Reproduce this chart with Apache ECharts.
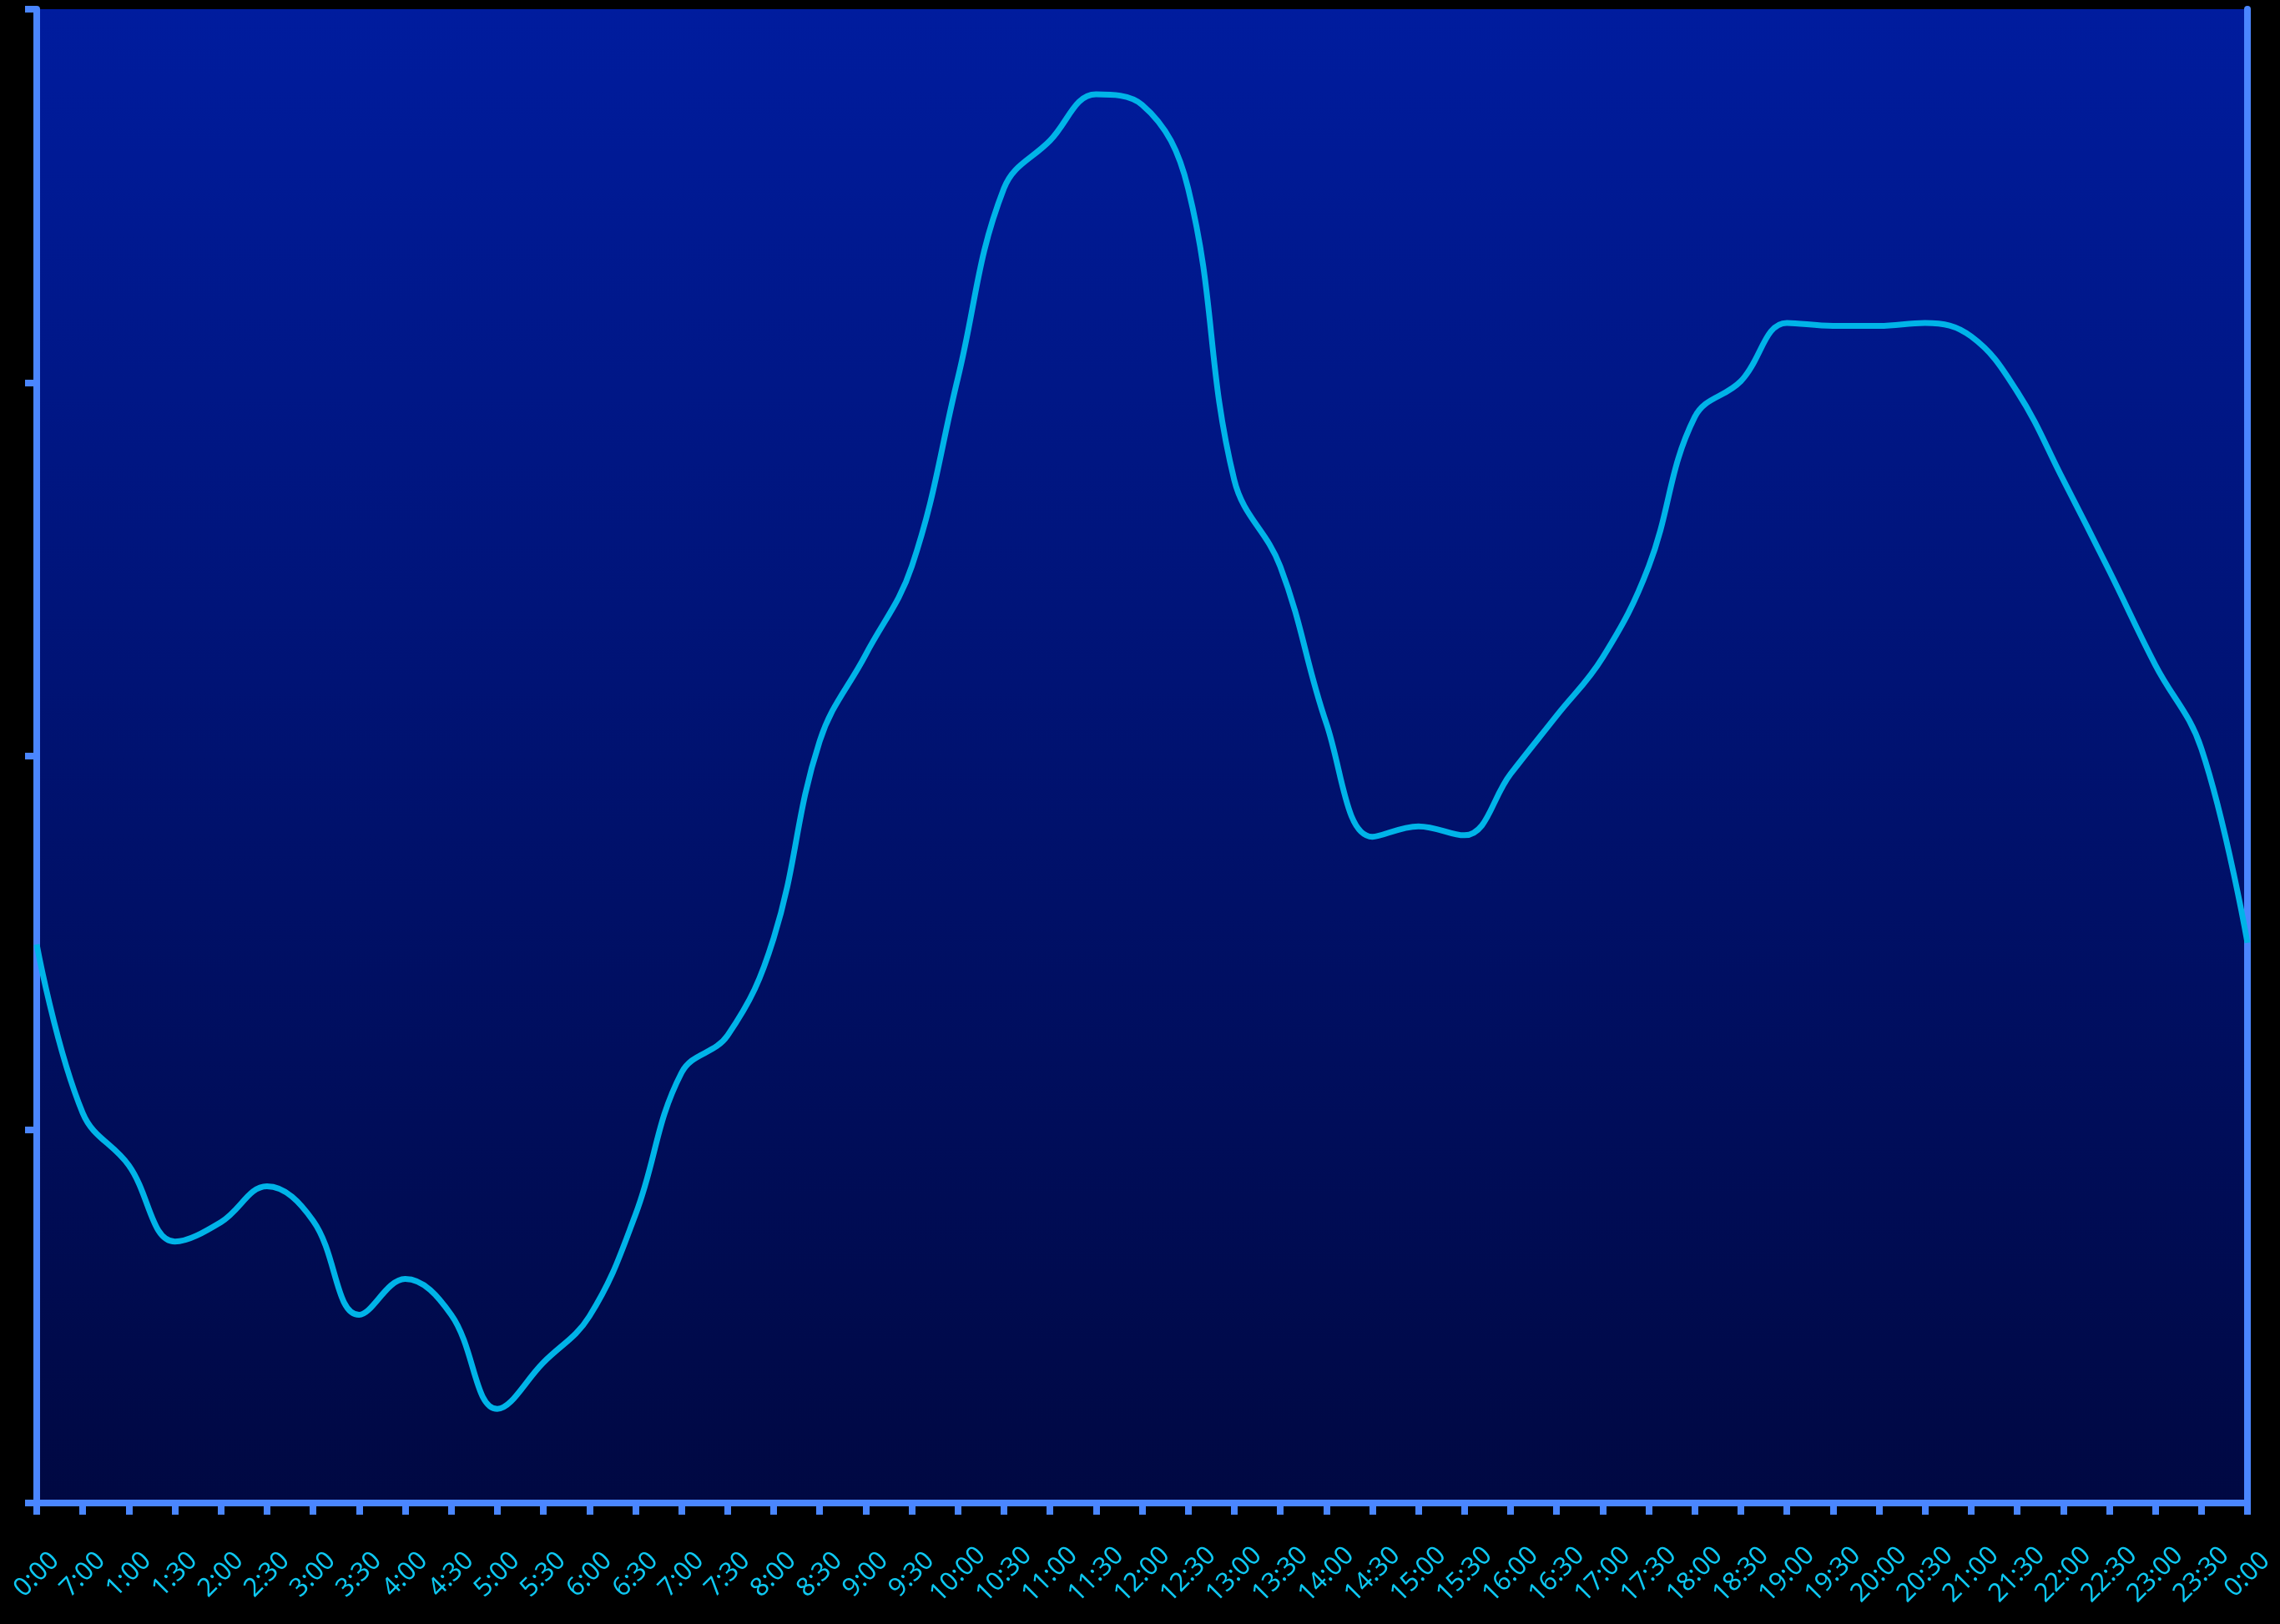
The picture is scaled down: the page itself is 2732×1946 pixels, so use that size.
<!DOCTYPE html>
<html><head><meta charset="utf-8">
<script src="https://cdn.jsdelivr.net/npm/echarts@6/dist/echarts.min.js"></script>
<style>html,body{margin:0;padding:0;background:#000;}#c{width:2732px;height:1946px;}</style>
</head><body><div id="c"></div>
<script>
const categories = ["0:00","7:00","1:00","1:30","2:00","2:30","3:00","3:30","4:00","4:30","5:00","5:30","6:00","6:30","7:00","7:30","8:00","8:30","9:00","9:30","10:00","10:30","11:00","11:30","12:00","12:30","13:00","13:30","14:00","14:30","15:00","15:30","16:00","16:30","17:00","17:30","18:00","18:30","19:00","19:30","20:00","20:30","21:00","21:30","22:00","22:30","23:00","23:30","0:00"];
const values = [37.4,26.1,22.6,17.5,18.8,21.2,18.9,12.6,15.0,12.6,6.3,9.4,12.5,19.3,28.8,31.3,37.8,51.0,56.8,62.7,75.3,88.0,91.2,94.3,93.6,88.0,68.5,62.7,52.2,44.6,45.3,44.7,48.8,52.7,56.6,62.7,72.7,75.1,79.0,78.8,78.8,79.0,78.1,74.4,68.5,62.4,56.1,50.5,37.5];

const chart = echarts.init(document.getElementById('c'));
const frame = '#4a86ff';
chart.setOption({
  backgroundColor: '#000000',
  animation: false,
  grid: {left: 44, top: 11, right: 39, bottom: 145, outerBoundsMode: 'none', containLabel: false,
    show: true, borderWidth: 0,
    backgroundColor: new echarts.graphic.LinearGradient(0,0,0,1,[{offset:0,color:'#001c9e'},{offset:1,color:'#000842'}])},
  xAxis: [{
    type: 'category', data: categories, boundaryGap: false,
    axisLine: {show: true, lineStyle: {color: frame, width: 8}},
    axisTick: {show: true, length: 14, lineStyle: {color: frame, width: 8}},
    axisLabel: {interval: 0, rotate: 45, align: 'center', verticalAlign: 'middle', color: '#0ec8f2', fontSize: 31, fontFamily: 'Noto Sans', margin: 86, hideOverlap: false},
    splitLine: {show: false}
  },{
    type: 'category', data: categories, boundaryGap: false, position: 'top',
    axisLine: {show: true, lineStyle: {color: frame, width: 8}},
    axisTick: {show: false}, axisLabel: {show: false}
  }],
  yAxis: [{
    type: 'value', min: 0, max: 100, interval: 25,
    axisLine: {show: true, lineStyle: {color: frame, width: 8}},
    axisTick: {show: true, length: 14, lineStyle: {color: frame, width: 8}},
    axisLabel: {show: false}, splitLine: {show: false}
  },{
    type: 'value', min: 0, max: 100, interval: 25, position: 'right',
    axisLine: {show: true, lineStyle: {color: frame, width: 8}},
    axisTick: {show: false}, axisLabel: {show: false}, splitLine: {show: false}
  }],
  series: [{
    type: 'line', data: values, smooth: 0.4, symbol: 'none',
    lineStyle: {color: '#00b4e8', width: 7}
  }]
});
</script></body></html>
